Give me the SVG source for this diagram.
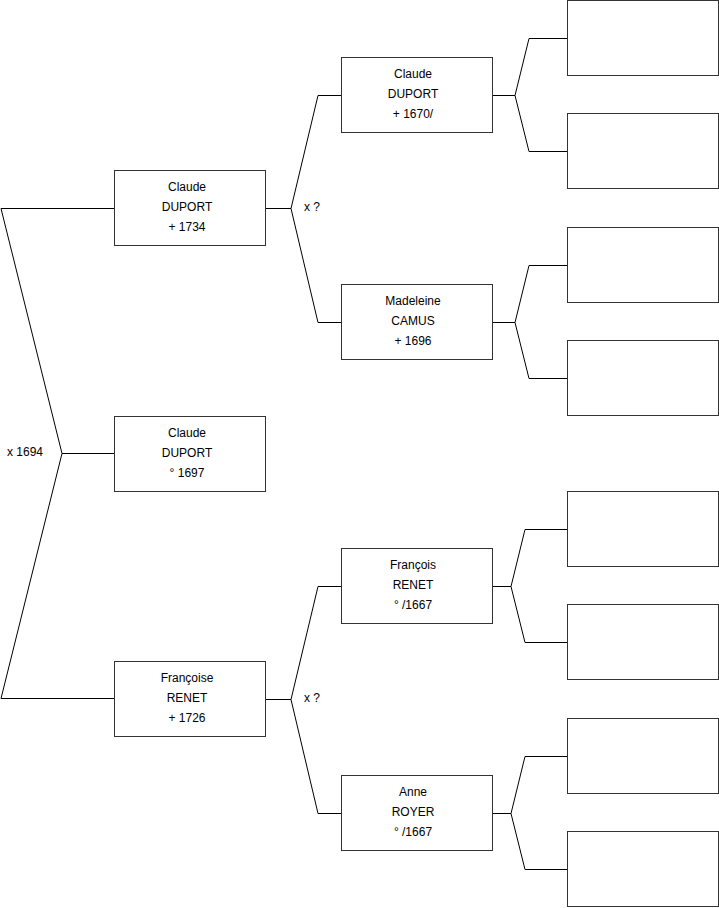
<svg xmlns="http://www.w3.org/2000/svg" width="719" height="908" viewBox="0 0 719 908">
<style>
.box{fill:#fff;stroke:#333;stroke-width:1}
.ln{fill:none;stroke:#000;stroke-width:1}
text{font-family:"Liberation Sans",Arial,sans-serif;font-size:12px;fill:#000}
.c{text-anchor:middle}
</style>
<rect width="719" height="908" fill="#fff"/>
<g id="connectors">
<polyline class="ln" points="114,208.5 1,208.5 62,453.5 1,698.5 114,698.5"/>
<line class="ln" x1="62" y1="453.5" x2="114" y2="453.5"/>
<polyline class="ln" points="341,95.5 318,95.5 291,208.5 318,322.5 341,322.5"/>
<line class="ln" x1="265" y1="208.5" x2="291" y2="208.5"/>
<polyline class="ln" points="341,586.5 318,586.5 291,699.5 318,813.5 341,813.5"/>
<line class="ln" x1="265" y1="699.5" x2="291" y2="699.5"/>
<polyline class="ln" points="567,38.5 529,38.5 515,95.5 529,151.5 567,151.5"/>
<line class="ln" x1="492" y1="95.5" x2="515" y2="95.5"/>
<polyline class="ln" points="567,265.5 529,265.5 515,322.5 529,378.5 567,378.5"/>
<line class="ln" x1="492" y1="322.5" x2="515" y2="322.5"/>
<polyline class="ln" points="567,529.5 525,529.5 511,586.5 525,642.5 567,642.5"/>
<line class="ln" x1="492" y1="586.5" x2="511" y2="586.5"/>
<polyline class="ln" points="567,756.5 525,756.5 511,813.5 525,869.5 567,869.5"/>
<line class="ln" x1="492" y1="813.5" x2="511" y2="813.5"/>
<text x="7" y="456">x 1694</text>
<text x="304" y="211">x ?</text>
<text x="304" y="702">x ?</text>
</g>
<g id="n-claude-1697">
<rect class="box" x="114.5" y="416.5" width="151" height="75"/>
<text class="c" x="187" y="437">Claude</text>
<text class="c" x="187" y="457">DUPORT</text>
<text class="c" x="187" y="477">° 1697</text>
</g>
<g id="n-claude-1734">
<rect class="box" x="114.5" y="170.5" width="151" height="75"/>
<text class="c" x="187" y="191">Claude</text>
<text class="c" x="187" y="211">DUPORT</text>
<text class="c" x="187" y="231">+ 1734</text>
</g>
<g id="n-francoise">
<rect class="box" x="114.5" y="661.5" width="151" height="75"/>
<text class="c" x="187" y="682">Françoise</text>
<text class="c" x="187" y="702">RENET</text>
<text class="c" x="187" y="722">+ 1726</text>
</g>
<g id="n-claude-1670">
<rect class="box" x="341.5" y="57.5" width="151" height="75"/>
<text class="c" x="413" y="78">Claude</text>
<text class="c" x="413" y="98">DUPORT</text>
<text class="c" x="413" y="118">+ 1670/</text>
</g>
<g id="n-madeleine">
<rect class="box" x="341.5" y="284.5" width="151" height="75"/>
<text class="c" x="413" y="305">Madeleine</text>
<text class="c" x="413" y="325">CAMUS</text>
<text class="c" x="413" y="345">+ 1696</text>
</g>
<g id="n-francois">
<rect class="box" x="341.5" y="548.5" width="151" height="75"/>
<text class="c" x="413" y="569">François</text>
<text class="c" x="413" y="589">RENET</text>
<text class="c" x="413" y="609">° /1667</text>
</g>
<g id="n-anne">
<rect class="box" x="341.5" y="775.5" width="151" height="75"/>
<text class="c" x="413" y="796">Anne</text>
<text class="c" x="413" y="816">ROYER</text>
<text class="c" x="413" y="836">° /1667</text>
</g>
<g id="n-g3-1"><rect class="box" x="567.5" y="0.5" width="151" height="75"/></g>
<g id="n-g3-2"><rect class="box" x="567.5" y="113.5" width="151" height="75"/></g>
<g id="n-g3-3"><rect class="box" x="567.5" y="227.5" width="151" height="75"/></g>
<g id="n-g3-4"><rect class="box" x="567.5" y="340.5" width="151" height="75"/></g>
<g id="n-g3-5"><rect class="box" x="567.5" y="491.5" width="151" height="75"/></g>
<g id="n-g3-6"><rect class="box" x="567.5" y="604.5" width="151" height="75"/></g>
<g id="n-g3-7"><rect class="box" x="567.5" y="718.5" width="151" height="75"/></g>
<g id="n-g3-8"><rect class="box" x="567.5" y="831.5" width="151" height="75"/></g>
</svg>
